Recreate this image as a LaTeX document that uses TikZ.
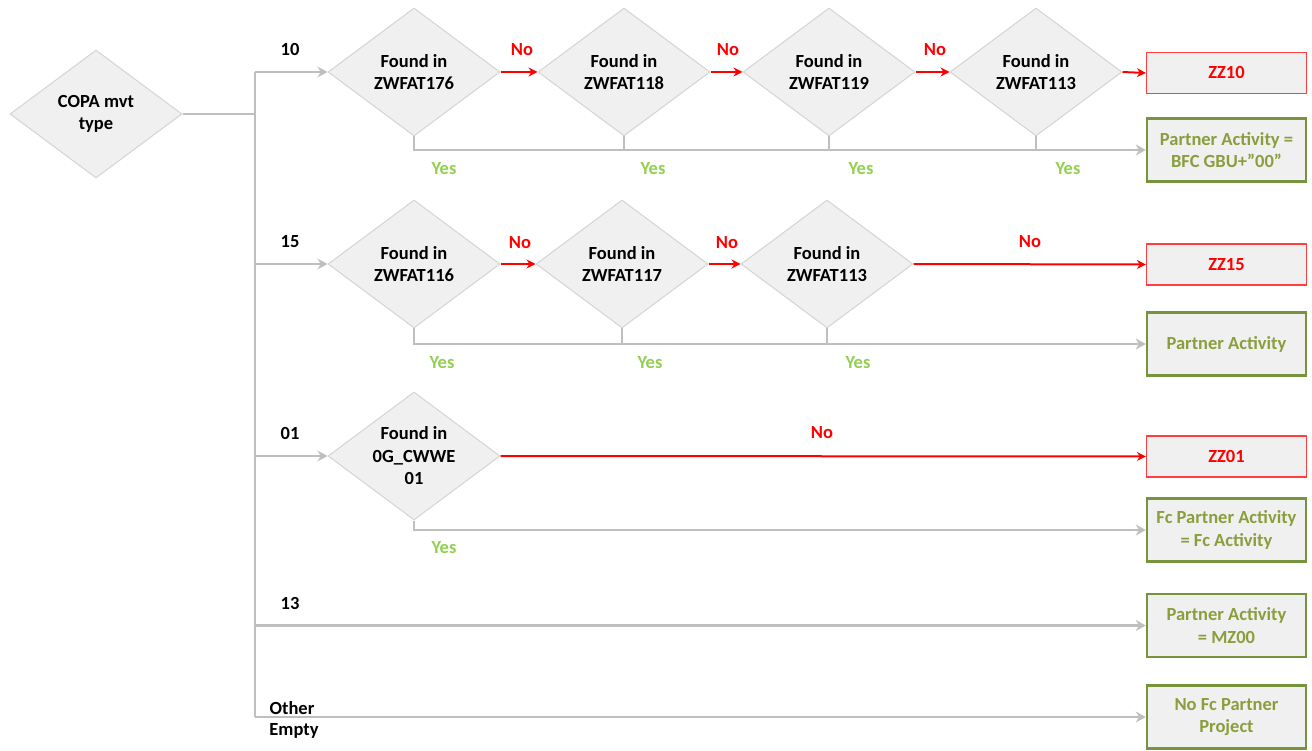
\documentclass[tikz,border=0pt]{standalone}
\usepackage{fontspec}
\setmainfont{Carlito}
\usetikzlibrary{shapes.geometric,arrows.meta}
\definecolor{dfill}{HTML}{F0F0F0}
\definecolor{dline}{HTML}{D4D4D4}
\definecolor{conn}{HTML}{BFBFBF}
\definecolor{olive}{HTML}{77933C}
\definecolor{oltext}{HTML}{8A9E3E}
\definecolor{yesg}{HTML}{92D050}
\definecolor{nored}{HTML}{FF0000}
\begin{document}
\begin{tikzpicture}[x=1pt,y=-1pt, font=\fontsize{18.5}{22.5}\selectfont\bfseries,
 dec/.style={diamond, aspect=1.34, draw=dline, fill=dfill, line width=1pt, minimum width=172pt, minimum height=128pt, inner sep=0pt, align=center},
 redbox/.style={draw=nored!75, fill=dfill, line width=1.2pt, minimum width=160pt, minimum height=41pt, text=nored, align=center},
 grnbox/.style={draw=olive, fill=dfill, line width=2.5pt, minimum width=159pt, minimum height=63pt, text=oltext, align=center},
 gline/.style={draw=conn, line width=2.5pt},
 garrow/.style={gline, -{Stealth[length=10pt,width=11pt]}},
 rarrow/.style={draw=nored, line width=2pt, -{Stealth[length=9pt,width=9pt]}},
 lbl/.style={text=black},
 yes/.style={text=yesg},
 no/.style={text=nored}]
\useasboundingbox (0,0) rectangle (1312,751);

% decisions
\node[dec] (copa) at (96,114) {COPA mvt\\type};
\node[dec] (a1) at (414,72) {Found in\\ZWFAT176};
\node[dec] (a2) at (624,72) {Found in\\ZWFAT118};
\node[dec] (a3) at (829,72) {Found in\\ZWFAT119};
\node[dec] (a4) at (1036,72) {Found in\\ZWFAT113};
\node[dec] (b1) at (414,264) {Found in\\ZWFAT116};
\node[dec] (b2) at (622,264) {Found in\\ZWFAT117};
\node[dec] (b3) at (827,264) {Found in\\ZWFAT113};
\node[dec] (c1) at (414,456) {Found in\\0G\_CWWE\\01};

% result boxes
\node[redbox] (zz10) at (1226.5,73) {ZZ10};
\node[grnbox] (r1) at (1226.5,150) {Partner Activity =\\BFC GBU+”00”};
\node[redbox] (zz15) at (1226.5,264.5) {ZZ15};
\node[grnbox] (r2) at (1226.5,344) {Partner Activity};
\node[redbox] (zz01) at (1226.5,456.5) {ZZ01};
\node[grnbox] (r3) at (1226.5,530) {Fc Partner Activity\\= Fc Activity};
\node[grnbox] (r4) at (1226.5,625.5) {Partner Activity\\= MZ00};
\node[grnbox] (r5) at (1226.5,717) {No Fc Partner\\Project};

% trunk
\coordinate (t0) at (255,114);
\coordinate (t10) at (255,72);
\coordinate (t15) at (255,264);
\coordinate (t01) at (255,456);
\coordinate (t13) at (255,625.5);
\coordinate (tot) at (255,717);
\draw[gline] (copa.east) -- (t0);
\draw[gline] (t10) -- (tot);
\draw[garrow] (t10) -- (a1.west);
\draw[garrow] (t15) -- (b1.west);
\draw[garrow] (t01) -- (c1.west);
\draw[garrow] (t13) -- (r4.west);
\draw[garrow] (tot) -- (r5.west);

% yes lines
\draw[garrow] (a1.south) |- (r1.west);
\draw[gline] (a2.south) -- (a2.south |- r1.west);
\draw[gline] (a3.south) -- (a3.south |- r1.west);
\draw[gline] (a4.south) -- (a4.south |- r1.west);
\draw[garrow] (b1.south) |- (r2.west);
\draw[gline] (b2.south) -- (b2.south |- r2.west);
\draw[gline] (b3.south) -- (b3.south |- r2.west);
\draw[garrow] (c1.south) |- (r3.west);

% no arrows
\draw[rarrow] (a1.east) -- (a2.west);
\draw[rarrow] (a2.east) -- (a3.west);
\draw[rarrow] (a3.east) -- (a4.west);
\draw[rarrow] (a4.east) -- (zz10.west);
\draw[rarrow] (b1.east) -- (b2.west);
\draw[rarrow] (b2.east) -- (b3.west);
\draw[rarrow] (b3.east) -- (zz15.west);
\draw[rarrow] (c1.east) -- (zz01.west);

% branch labels
\node[lbl] (l10) at (290,50) {10};
\node[lbl] (l15) at (290,242) {15};
\node[lbl] (l01) at (290,433) {01};
\node[lbl] (l13) at (290,603) {13};
\node[lbl] (lot) at (292,708) {Other};
\node[lbl] (lem) at (294,731) {Empty};

% no labels
\node[no] (n1) at (522,50) {No};
\node[no] (n2) at (728,50) {No};
\node[no] (n3) at (935,50) {No};
\node[no] (n4) at (520,243) {No};
\node[no] (n5) at (727,243) {No};
\node[no] (n6) at (1030,242) {No};
\node[no] (n7) at (822,433) {No};

% yes labels
\node[yes] (y1) at (444,169) {Yes};
\node[yes] (y2) at (653,169) {Yes};
\node[yes] (y3) at (861,169) {Yes};
\node[yes] (y4) at (1068,169) {Yes};
\node[yes] (y5) at (442,363) {Yes};
\node[yes] (y6) at (650,363) {Yes};
\node[yes] (y7) at (858,363) {Yes};
\node[yes] (y8) at (444,548) {Yes};
\end{tikzpicture}
\end{document}
